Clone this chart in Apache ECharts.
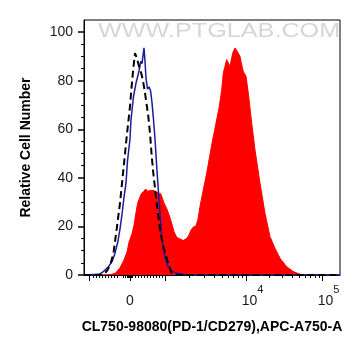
<!DOCTYPE html>
<html><head><meta charset="utf-8">
<script src="https://cdn.jsdelivr.net/npm/echarts@6/dist/echarts.min.js"></script>
<style>html,body{margin:0;padding:0;background:#fff}#c{width:364px;height:356px}</style>
</head><body><div id="c"></div>
<script>
// x values are display-channel positions on the biexponential (logicle) axis
const redData = [[0,0],[24,0],[28,0.3],[31.7,0.8],[36,3],[40,6.2],[43,9.5],[45,13.5],[48,17],[50,20.5],[52.7,27.5],[54,30],[57.3,33.5],[60,34.5],[61.7,35.4],[63.5,34.5],[65,33.7],[66.5,34.8],[68.3,35.4],[70,34.8],[71.7,34.4],[74,33.8],[76.7,33.5],[78.5,31.5],[80,29.6],[83.3,26.8],[86.7,22.7],[90,17.9],[92.7,15.5],[95,15],[97,14.6],[99.3,14.2],[101,14.4],[103,15.2],[105,16.5],[107,18.5],[109.5,19.8],[112,20.2],[114,23],[116,28.2],[119,34.5],[122.7,41.9],[125.5,48.5],[128.7,55.7],[132,62.5],[135.3,69.4],[137.7,76.3],[139.3,83.2],[141,85.9],[142.7,88.7],[144.3,89.3],[146,85.9],[148.7,91.4],[151,93.5],[153.3,92.1],[156,90],[157.5,87],[159.3,83.8],[162,81.8],[164.3,74.9],[167.7,62.6],[171,51.5],[176,37.8],[181,25.4],[186,15.8],[191,11],[196,6.9],[202.7,3.4],[209.3,1.4],[216,0.3],[225,0],[256,0]];
const blueData = [[0,0],[15,0.3],[19,1.3],[24,3.2],[28,5.5],[31,9],[34,14],[36,19],[38,25],[40,32],[42,38],[43.5,47],[46,56],[47,64],[49.5,73.5],[52,79],[55,84],[56.7,88],[58,87],[60,93.5],[61,88],[62,81],[63.5,76.5],[65,77.5],[66.5,76],[68,71],[69.5,64],[71,56],[72.5,46],[74.3,35],[76,25],[77.7,16],[79.5,10.5],[81,7],[84,3.5],[87,1.8],[92,0.8],[100,0.2],[110,0],[256,0]];
const isotypeData = [[0,0],[18,0],[21,0.8],[23.5,2],[26.7,4.8],[29.5,9],[32.7,19],[36,29.6],[39.3,43],[42.7,57],[46,69.4],[47.7,78],[49.3,85],[51,91.4],[53,89],[55,86],[57,83.5],[59,80],[61,75],[64.3,65.3],[66,58.4],[67.7,49],[69.3,42],[72.7,29.6],[76,18.6],[79.3,11.7],[84.3,4.8],[87.7,0.7],[92,0],[256,0]];

const xLabelPos = [46, 162, 238];
const xLabelBase = ['0', '10', '10'];
const xLabelExp = ['', '4', '5'];
const xMajorTicks = [5, 46, 81, 162, 238];
const xMinorTicks = [9,12,15,18,21,24,27,30,33,39,41,43,44,45,47,48,51,54,57,60,63,66,69,72,75,78,105,120,130,138,144,149,154,158,185,198,208,215,221,226,231,235];
const yMajorTicks = [0,20,40,60,80,100];
const yMinorTicks = [5,10,15,25,30,35,45,50,55,65,70,75,85,90,95];

const xTitle = 'CL750-98080(PD-1/CD279),APC-A750-A';
const yTitle = 'Relative Cell Number';
const watermark = 'WWW.PTGLAB.COM';

const chart = echarts.init(document.getElementById('c'), null, {renderer: 'canvas'});
const txt = '#1a1a1a';
const font = 'Liberation Sans';

chart.setOption({
  animation: false,
  backgroundColor: '#fff',
  grid: {left: 84, right: 24, top: 20, bottom: 81, show: true, borderColor: '#000', borderWidth: 1, outerBoundsMode: 'none', containLabel: false},
  graphic: [{
    type: 'text', x: 98, y: 21, scaleX: 1.2, z: 0,
    style: {text: watermark, font: '21px "Liberation Sans"', fill: '#d6d6d6', textVerticalAlign: 'top'}
  }],
  xAxis: [{
    type: 'value', position: 'bottom', min: 0, max: 256,
    axisLine: {show: true, lineStyle: {color: '#000', width: 1}},
    axisTick: {show: true, customValues: xMajorTicks, length: 6, lineStyle: {color: '#000', width: 1}},
    axisLabel: {
      show: true, customValues: xLabelPos, margin: 9,
      formatter: function (v) {
        const i = xLabelPos.indexOf(Math.round(v));
        if (i < 0) return '';
        return xLabelExp[i] ? '{n|' + xLabelBase[i] + '}{s|' + xLabelExp[i] + '}' : '{z|' + xLabelBase[i] + '}';
      },
      rich: {
        n: {fontSize: 14, fontFamily: font, color: txt, lineHeight: 24, verticalAlign: 'bottom', padding: [0, 0, 0, 13]},
        s: {fontSize: 11, fontFamily: font, color: txt, lineHeight: 7, verticalAlign: 'top'},
        z: {fontSize: 14, fontFamily: font, color: txt, lineHeight: 24, verticalAlign: 'bottom'}
      }
    },
    splitLine: {show: false},
    name: xTitle, nameLocation: 'middle', nameGap: 45,
    nameTextStyle: {fontSize: 14, fontWeight: 'bold', fontFamily: font, color: '#000'}
  }, {
    type: 'value', position: 'bottom', min: 0, max: 256,
    axisLine: {show: false},
    axisTick: {show: true, customValues: xMinorTicks, length: 3, lineStyle: {color: '#000', width: 1}},
    axisLabel: {show: false},
    splitLine: {show: false}
  }],
  yAxis: [{
    type: 'value', position: 'left', min: 0, max: 105,
    axisLine: {show: true, lineStyle: {color: '#000', width: 1}},
    axisTick: {show: true, customValues: yMajorTicks, length: 6, lineStyle: {color: '#000', width: 1.5}},
    axisLabel: {show: true, customValues: yMajorTicks, margin: 11, fontSize: 14, fontFamily: font, color: txt},
    splitLine: {show: false},
    name: yTitle, nameLocation: 'middle', nameGap: 51,
    nameTextStyle: {fontSize: 14, fontWeight: 'bold', fontFamily: font, color: '#000'}
  }, {
    type: 'value', position: 'left', min: 0, max: 105,
    axisLine: {show: false},
    axisTick: {show: true, customValues: yMinorTicks, length: 3, lineStyle: {color: '#000', width: 1}},
    axisLabel: {show: false},
    splitLine: {show: false}
  }],
  series: [{
    type: 'line', name: 'PD-1', data: redData, xAxisIndex: 0, yAxisIndex: 0,
    showSymbol: false, symbol: 'none', smooth: false, z: 2,
    lineStyle: {color: '#ff0000', width: 1},
    areaStyle: {color: '#ff0000', opacity: 1}
  }, {
    type: 'line', name: 'Unstained', data: blueData, xAxisIndex: 0, yAxisIndex: 0,
    showSymbol: false, symbol: 'none', smooth: false, z: 3,
    lineStyle: {color: '#1c1c9c', width: 1.5}
  }, {
    type: 'line', name: 'Isotype', data: isotypeData, xAxisIndex: 0, yAxisIndex: 0,
    showSymbol: false, symbol: 'none', smooth: false, z: 4,
    lineStyle: {color: '#000', width: 2, type: [7, 4]}
  }]
});
</script>
</body></html>
